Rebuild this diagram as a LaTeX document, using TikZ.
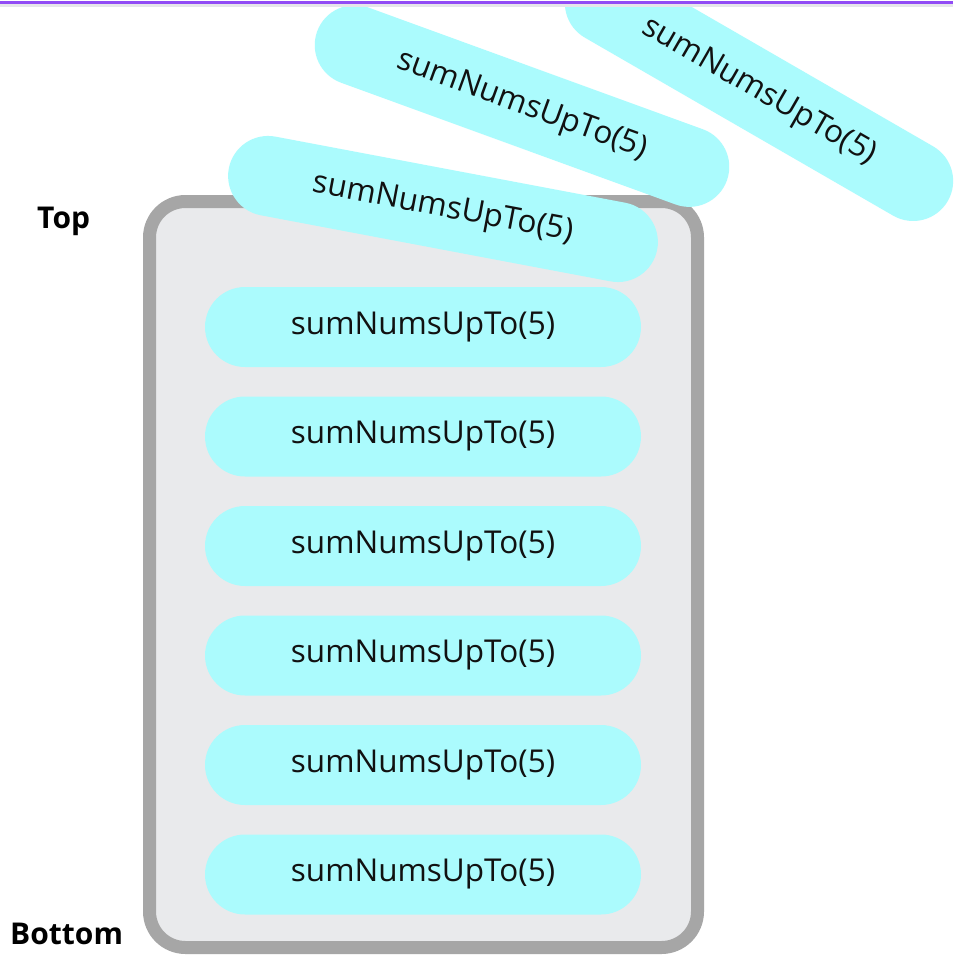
\documentclass[tikz,border=0pt]{standalone}
\usepackage{fontspec}
\setmainfont{Open Sans}
\definecolor{pillcyan}{RGB}{171,251,253}
\definecolor{stackfill}{RGB}{233,234,236}
\definecolor{stackedge}{RGB}{166,166,166}
\definecolor{barviolet}{RGB}{145,75,245}
\definecolor{bargray}{RGB}{230,230,234}
\definecolor{txt}{RGB}{17,17,17}
\tikzset{
  pill/.style={rectangle, rounded corners=40pt, fill=pillcyan, draw=none,
    minimum width=436pt, minimum height=80pt, inner sep=0pt, text=txt,
    font=\fontsize{31.5}{36}\selectfont},
  sidelabel/.style={anchor=base west, inner sep=0pt, text=black,
    font=\bfseries\fontsize{30}{34}\selectfont},
}
\begin{document}
\begin{tikzpicture}[x=1pt,y=-1pt]
  \useasboundingbox (0,0) rectangle (953,966);
  \fill[white] (0,0) rectangle (953,966);

  % the stack container
  \draw[stackedge, line width=13pt, fill=stackfill, rounded corners=36pt]
    (149.5,201.5) rectangle (697.5,947.5);

  % frames resting in the stack
  \foreach \i in {0,...,5} {
    \node[pill] (frame\i) at (423,327+109.5*\i) {sumNumsUpTo(5)};
  }

  % frames being pushed onto the stack
  \begin{scope}
    \clip (0,7) rectangle (953,966);
    \node[pill, rotate=-10.7] (pushA) at (443,209) {sumNumsUpTo(5)};
    \node[pill, rotate=-20] (pushB) at (522,106) {sumNumsUpTo(5)};
    \node[pill, rotate=-30] (pushC) at (759,92) {sumNumsUpTo(5)};
  \end{scope}

  % top edge strip
  \fill[barviolet] (0,1) rectangle (953,4);
  \fill[bargray] (0,4) rectangle (953,7);

  % labels
  \node[sidelabel] (toplbl) at (37,228) {Top};
  \node[sidelabel] (bottomlbl) at (10,944) {Bottom};
\end{tikzpicture}
\end{document}
